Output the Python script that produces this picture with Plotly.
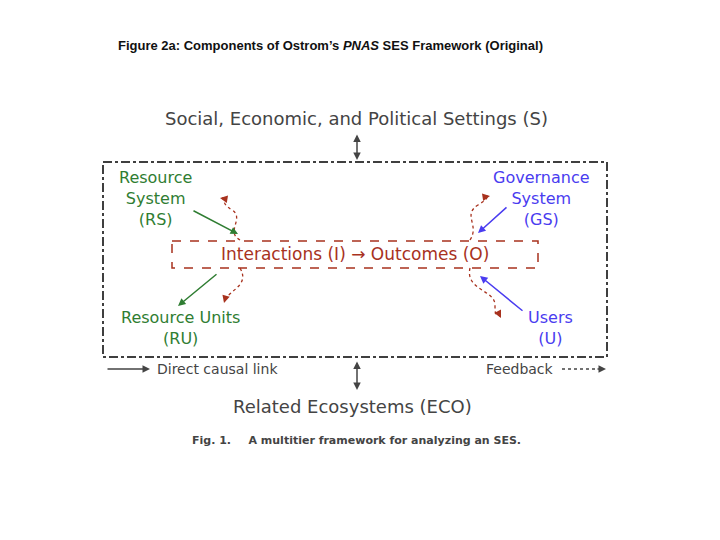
import plotly.graph_objects as go

GREEN = "#2f7d32"
BLUE = "#4a3cf0"
RED = "#a8321e"
GRAY = "#444444"

# labels of the framework boxes
green_labels = ["Resource<br>System<br>(RS)", "Resource Units<br>(RU)"]
green_pos = [(155, 198), (180, 328)]
blue_labels = ["Governance<br>System<br>(GS)", "Users<br>(U)"]
blue_pos = [(541, 198), (550, 328)]
center_label = "Interactions (I) \u2192 Outcomes (O)"
top_label = "Social, Economic, and Political Settings (S)"
bottom_label = "Related Ecosystems (ECO)"
caption = "<b>Fig. 1.</b>     <b>A multitier framework for analyzing an SES.</b>"
title = "<b>Figure 2a: Components of Ostrom\u2019s <i>PNAS</i> SES Framework (Original)</b>"

fig = go.Figure()
# page body adds an 8px offset, so shift the ranges to compensate
fig.update_xaxes(range=[8, 728], visible=False)
fig.update_yaxes(range=[548, 8], visible=False)

fig.add_annotation(x=330, y=45, text=title, showarrow=False,
                   font=dict(size=13, color="#111111", family="Liberation Sans"))
fig.add_annotation(x=356, y=118, text=top_label, showarrow=False,
                   font=dict(size=18, color=GRAY, family="DejaVu Sans"))
fig.add_annotation(x=352, y=406, text=bottom_label, showarrow=False,
                   font=dict(size=18, color=GRAY, family="DejaVu Sans"))
fig.add_annotation(x=356, y=440, text=caption, showarrow=False,
                   font=dict(size=11, color=GRAY, family="DejaVu Sans"))

for t, (x, y) in zip(green_labels, green_pos):
    fig.add_annotation(x=x, y=y, text=t, showarrow=False,
                       font=dict(size=16, color=GREEN, family="DejaVu Sans"))
for t, (x, y) in zip(blue_labels, blue_pos):
    fig.add_annotation(x=x, y=y, text=t, showarrow=False,
                       font=dict(size=16, color=BLUE, family="DejaVu Sans"))
fig.add_annotation(x=355, y=254, text=center_label, showarrow=False,
                   font=dict(size=17, color=RED, family="DejaVu Sans"))

# outer dash-dot box and inner dashed box
fig.add_shape(type="rect", x0=103, y0=162, x1=607, y1=357,
              line=dict(color="black", width=1.5, dash="dashdot"))
fig.add_shape(type="rect", x0=172, y0=241, x1=538, y1=268,
              line=dict(color=RED, width=1.5, dash="dash"))

def arrow(x0, y0, x1, y1, color, both=False):
    fig.add_annotation(x=x1, y=y1, ax=x0, ay=y0, xref="x", yref="y",
                       axref="x", ayref="y", text="", showarrow=True,
                       arrowhead=2, arrowsize=1, arrowwidth=1.5,
                       arrowcolor=color, startarrowhead=2,
                       arrowside="end+start" if both else "end")

arrow(357, 133, 357, 160, GRAY, both=True)
arrow(357, 360, 357, 390, GRAY, both=True)
arrow(192, 210, 238, 234, GREEN)
arrow(218, 273, 178, 306, GREEN)
arrow(508, 206, 478, 233, BLUE)
arrow(524, 312, 480, 276, BLUE)

# feedback curves (dotted red)
curves = [
    "M 240 240 C 225 232, 245 218, 232 210 S 228 200, 222 198",
    "M 240 268 C 250 285, 230 290, 225 300",
    "M 470 240 C 480 225, 462 215, 478 205 S 482 198, 488 196",
    "M 470 268 C 465 290, 495 290, 495 305 S 497 312, 500 316",
]
for p in curves:
    fig.add_shape(type="path", path=p, line=dict(color=RED, width=1.3, dash="dot"))
arrow(226, 199, 220, 198, RED)
arrow(226, 296, 224, 303, RED)
arrow(484, 197, 490, 196, RED)
arrow(498, 312, 501, 318, RED)

# legend row
arrow(106, 369, 150, 369, GRAY)
fig.add_annotation(x=155, y=369, text="Direct causal link", showarrow=False, xanchor="left",
                   font=dict(size=14, color=GRAY, family="DejaVu Sans"))
fig.add_annotation(x=556, y=369, text="Feedback", showarrow=False, xanchor="right",
                   font=dict(size=14, color=GRAY, family="DejaVu Sans"))
fig.add_shape(type="line", x0=562, y0=369, x1=598, y1=369,
              line=dict(color=GRAY, width=1.5, dash="dot"))
arrow(596, 369, 606, 369, GRAY)

fig.update_layout(width=720, height=540, margin=dict(l=0, r=0, t=0, b=0),
                  plot_bgcolor="white", paper_bgcolor="white", showlegend=False)
fig.write_html("out.html")
